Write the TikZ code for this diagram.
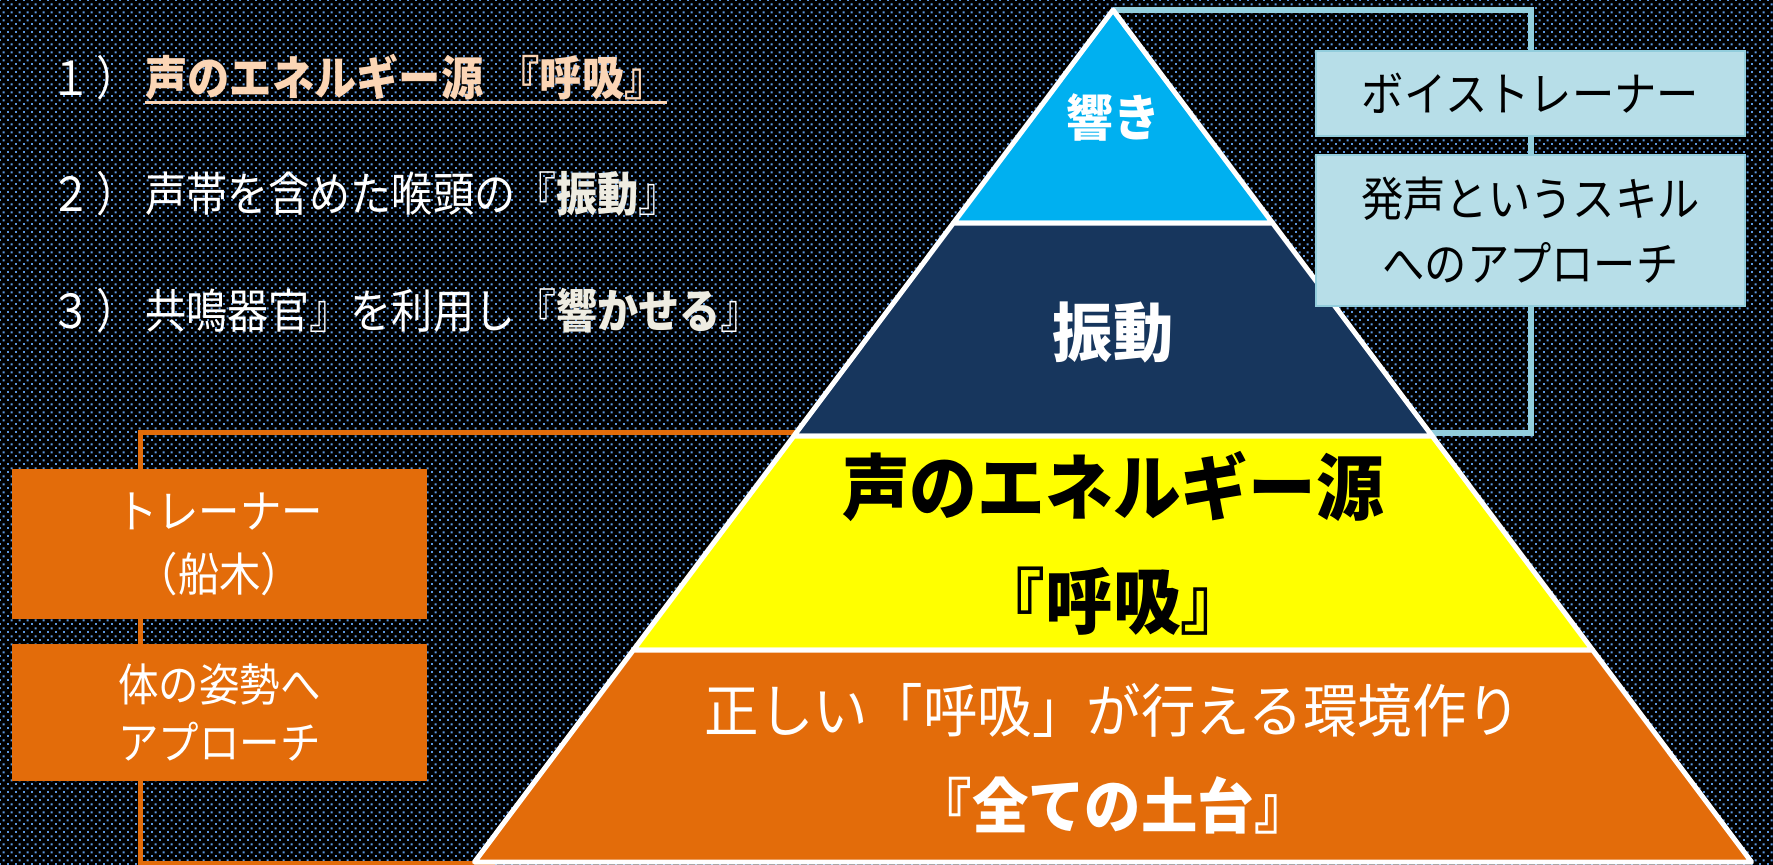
\documentclass[tikz,border=0pt]{standalone}
\usepackage{fontspec}
\setmainfont{Noto Sans CJK JP}
\newfontfamily\jpA[FakeStretch=0.9]{Noto Sans CJK JP}
\newfontfamily\jpC[FakeStretch=0.875]{Noto Sans CJK JP}
\newfontfamily\jpB[FakeStretch=0.94]{Noto Sans CJK JP}
\usetikzlibrary{patterns}
\definecolor{dotblue}{HTML}{5A96DE}
\definecolor{skyL}{HTML}{00B0F0}
\definecolor{navyL}{HTML}{17365D}
\definecolor{yellowL}{HTML}{FFFF00}
\definecolor{orangeL}{HTML}{E36C0A}
\definecolor{lbfill}{HTML}{B7DEE8}
\definecolor{lbline}{HTML}{92CDDC}
\definecolor{peach}{HTML}{FBD5B5}
\definecolor{offwhite}{HTML}{EEECE1}
\pgfdeclarepatternformonly{bgdots}{\pgfqpoint{0pt}{0pt}}{\pgfqpoint{8pt}{8pt}}{\pgfqpoint{8pt}{8pt}}{%
  \pgfpathrectangle{\pgfqpoint{0pt}{0pt}}{\pgfqpoint{2.2pt}{2.2pt}}%
  \pgfpathrectangle{\pgfqpoint{4pt}{4pt}}{\pgfqpoint{2.2pt}{2.2pt}}%
  \pgfusepath{fill}}
\tikzset{
  layer/.style={draw=white, line width=5pt, line join=round},
  blueline/.style={draw=lbline, line width=5.5pt},
  orangeline/.style={draw=orangeL, line width=5pt},
  lbbox/.style={fill=lbfill, draw=lbline, line width=2pt, text=black, align=center,
    inner sep=0pt, font=\jpA\fontsize{47}{65}\selectfont},
  obox/.style={fill=orangeL, draw=none, text=white, align=center,
    inner sep=0pt, font=\jpA\fontsize{46}{63}\selectfont},
  lefttxt/.style={text=white, inner sep=0pt, anchor=base west, font=\jpC\fontsize{47}{56}\selectfont},
  pyrtxt/.style={inner sep=0pt, anchor=base}
}
\begin{document}
\begin{tikzpicture}[x=1pt,y=-1pt]
\fill[black] (0,0) rectangle (1773,865);
\fill[pattern=bgdots, pattern color=dotblue] (0,0) rectangle (1773,865);
\useasboundingbox (0,0) rectangle (1773,865);

% bracket anchor points
\coordinate (apex) at (1113,10);
\coordinate (bjoin) at (1431,433);
\coordinate (bcol) at (1531,0);
\coordinate (ojoin) at (797,432);
\coordinate (obase) at (495,863);
\coordinate (ocol) at (140,0);

% brackets (behind)
\draw[blueline] (apex) -- (apex -| bcol) -- (bjoin -| bcol) -- (bjoin);
\draw[orangeline] (ojoin) -- (ojoin -| ocol) -- (obase -| ocol) -- (obase);

% pyramid
\filldraw[layer, fill=skyL] (1113,10) -- (1272.6,223) -- (953.4,223) -- cycle;
\filldraw[layer, fill=navyL] (953.4,223) -- (1272.6,223) -- (1432.2,436) -- (793.8,436) -- cycle;
\filldraw[layer, fill=yellowL] (793.8,436) -- (1432.2,436) -- (1592.6,650) -- (633.4,650) -- cycle;
\filldraw[layer, fill=orangeL] (633.4,650) -- (1592.6,650) -- (1751.5,862) -- (474.5,862) -- cycle;

% pyramid texts
\node[pyrtxt, text=white, font=\jpB\bfseries\fontsize{50}{56}\selectfont] (p1) at (1113,136) {響き};
\node[pyrtxt, text=white, font=\jpB\bfseries\fontsize{64}{70}\selectfont] (p2) at (1113,356) {振動};
\node[pyrtxt, text=black, font=\jpB\bfseries\fontsize{72}{80}\selectfont] (p3a) at (1113,514) {声のエネルギー源};
\node[pyrtxt, text=black, font=\jpB\bfseries\fontsize{72}{80}\selectfont] (p3b) at (1113,628) {『呼吸』};
\node[pyrtxt, text=white, font=\jpB\fontsize{58}{64}\selectfont] (p4a) at (1113,732) {正しい「呼吸」が行える環境作り};
\node[pyrtxt, text=white, font=\jpB\bfseries\fontsize{60}{66}\selectfont] (p4b) at (1113,828) {『全ての土台』};

% side boxes
\node[lbbox, minimum width=429pt, minimum height=85pt] (vb1) at (1530.5,93.5) {ボイストレーナー};
\node[lbbox, minimum width=429pt, minimum height=151pt] (vb2) at (1530.5,230.5) {発声というスキル\\へのアプローチ};
\node[obox, minimum width=415pt, minimum height=150pt] (tb1) at (219.5,544) {トレーナー\\（船木）};
\node[obox, minimum width=415pt, minimum height=137pt, font=\jpA\fontsize{45}{58}\selectfont] (tb2) at (219.5,712.5) {体の姿勢へ\\アプローチ};

% left list
\node[lefttxt] (n1) at (50,95.5) {１\hspace{5pt}）};
\node[lefttxt, text=peach, font=\jpA\bfseries\fontsize{47}{56}\selectfont] (t1) at (145,95.5) {声のエネルギー源\hspace{14pt}『呼吸』};
\draw[peach, line width=2.5pt] ([yshift=-7pt]t1.base west) -- ([yshift=-7pt]t1.base east);
\node[lefttxt] (n2) at (50,211) {２\hspace{5pt}）};
\node[lefttxt] (t2) at (145,211) {声帯を含めた喉頭の『{\bfseries\color{offwhite}振動}』};
\node[lefttxt] (n3) at (50,328) {３\hspace{5pt}）};
\node[lefttxt] (t3) at (145,328) {共鳴器官』を利用し『{\bfseries\color{offwhite}響かせる}』};
\end{tikzpicture}
\end{document}
